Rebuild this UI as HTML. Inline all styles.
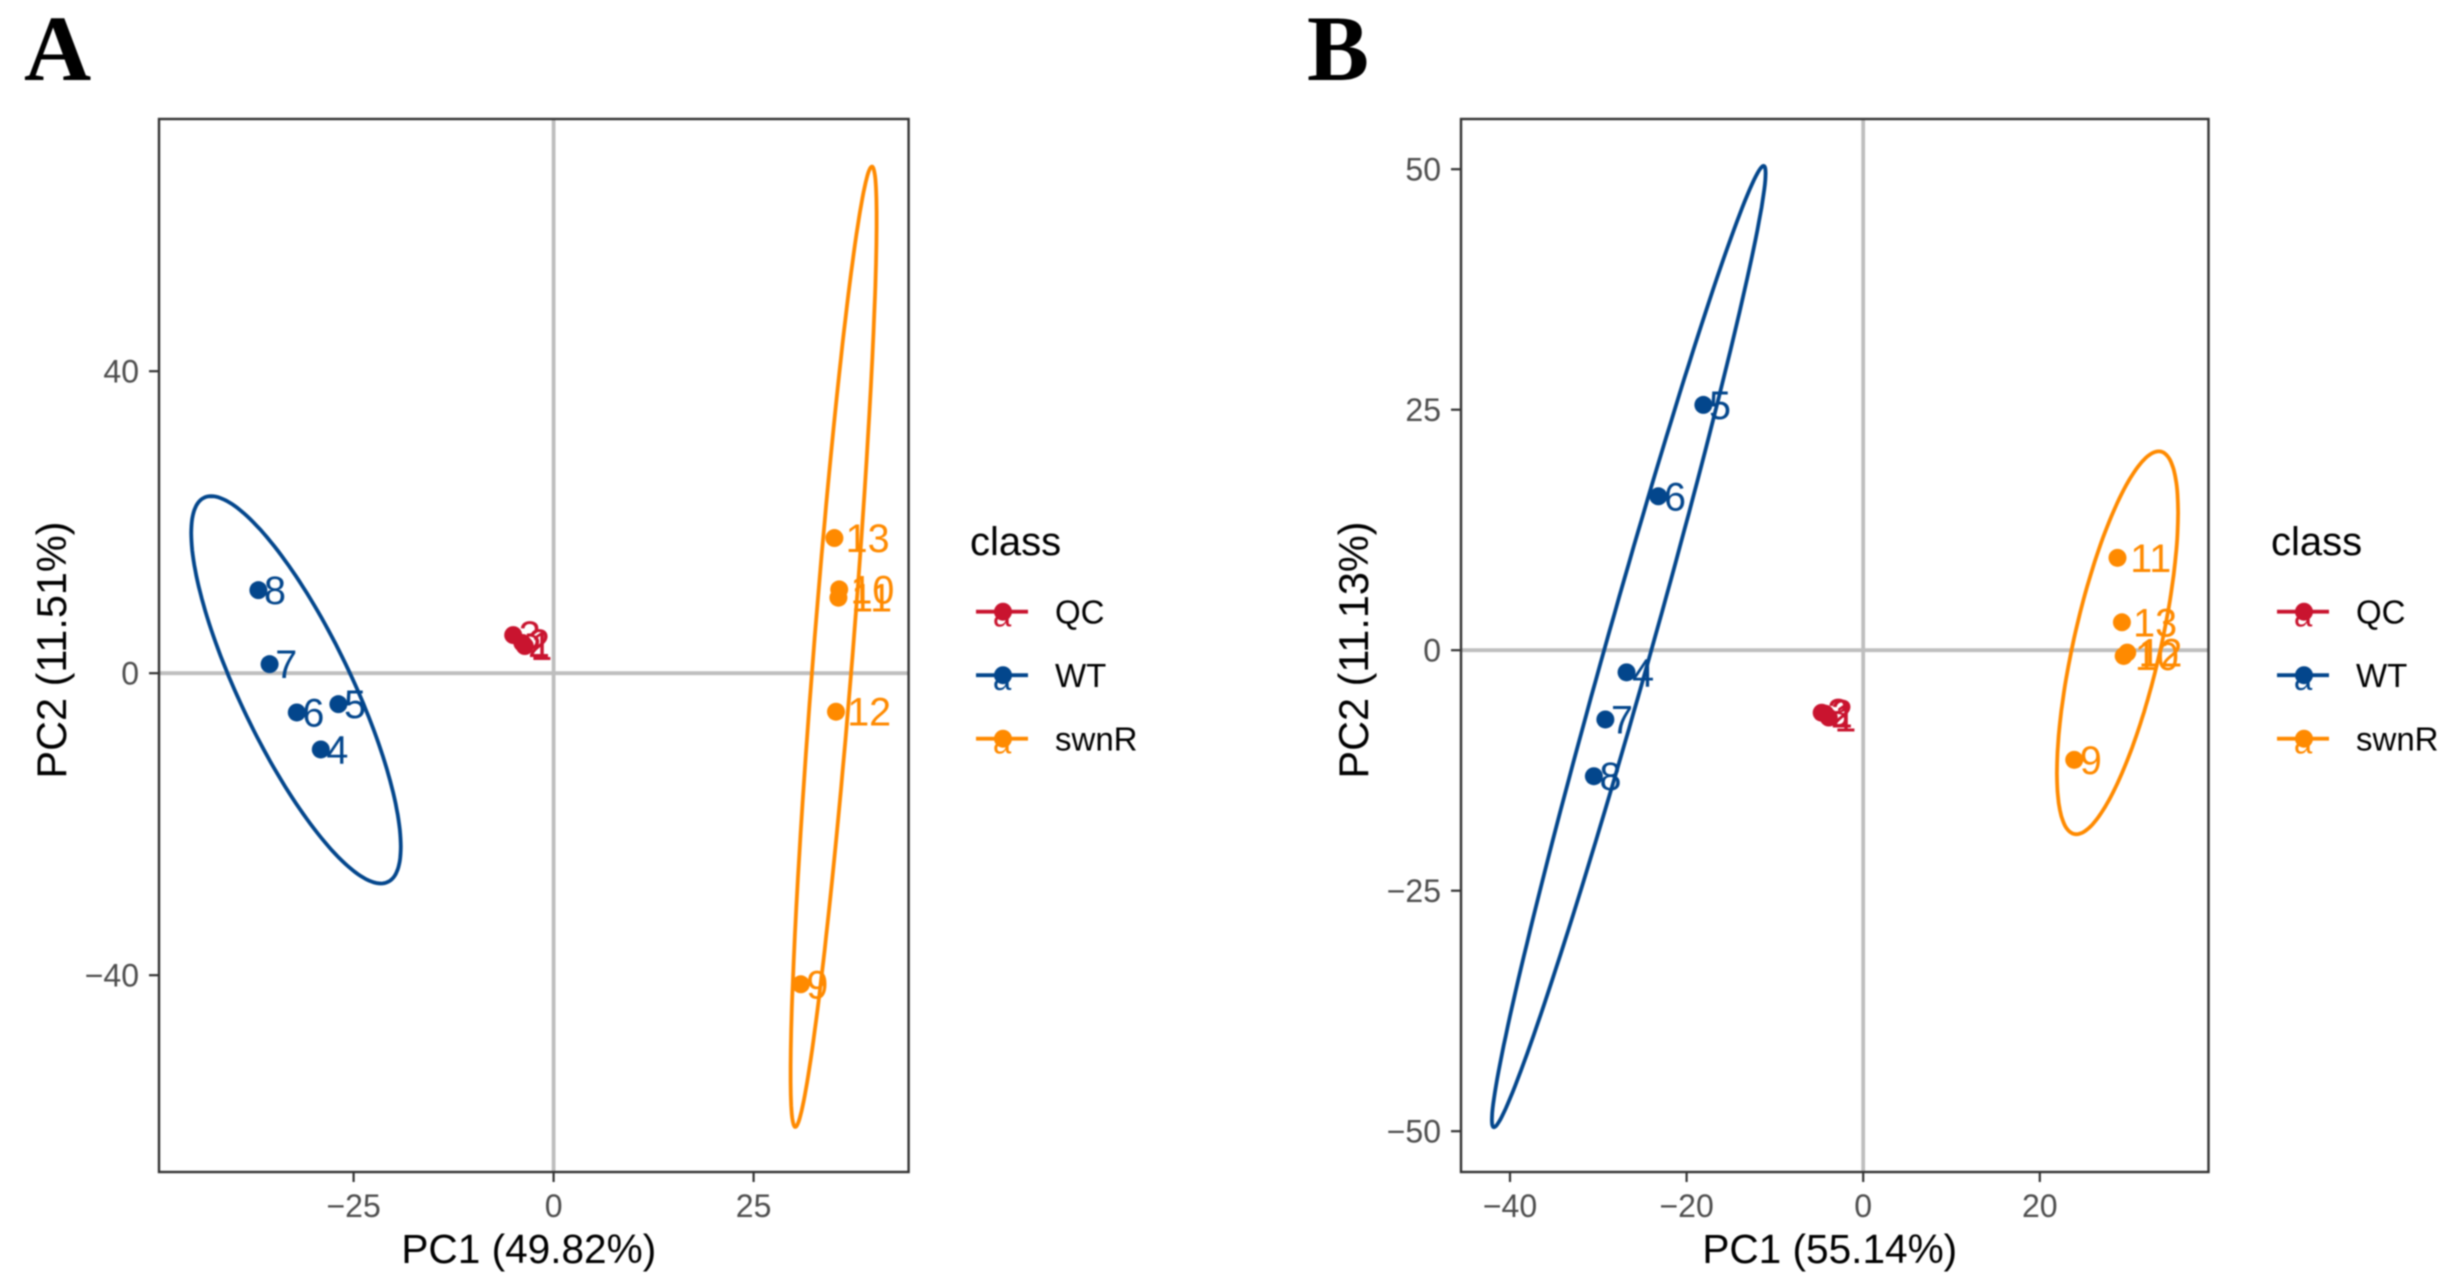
<!DOCTYPE html>
<html lang="en">
<head>
<meta charset="utf-8">
<title>PCA score plots</title>
<style>
html,body{margin:0;padding:0;background:#fff;width:2452px;height:1287px;overflow:hidden}
svg{display:block;filter:blur(0.8px)}
text{font-family:"Liberation Sans",Arial,sans-serif}
.panel-letter{font-family:"Liberation Serif","Times New Roman",serif;font-weight:bold;font-size:93px;fill:#000}
</style>
</head>
<body>
<svg id="figure" xmlns="http://www.w3.org/2000/svg" width="2452" height="1287" viewBox="0 0 2452 1287">
<rect x="0" y="0" width="2452" height="1287" fill="#fff"/>
<text class="panel-letter" x="24" y="80">A</text>
<text class="panel-letter" x="1307" y="80">B</text>
</svg>
<script>
// ---------- shared categories ----------
const classNames = ['QC', 'WT', 'swnR'];

// ---------- panel A values ----------
const samplesA = ['1','2','3','4','5','6','7','8','9','10','11','12','13'];
const classA = ['QC','QC','QC','WT','WT','WT','WT','WT','swnR','swnR','swnR','swnR','swnR'];
const pc1A = [-3.6,-3.9,-5.05,-29.1,-26.9,-32.1,-35.5,-36.9,30.9,35.7,35.6,35.3,35.1];
const pc2A = [3.6,4.0,5.05,-10.1,-4.1,-5.2,1.2,11.0,-41.2,11.1,10.0,-5.1,17.9];
const xTicksA = [-25,0,25];
const yTicksA = [-40,0,40];
const xTitleA = 'PC1 (49.82%)';
const yTitleA = 'PC2 (11.51%)';
const ellipseClassA = ['WT','swnR'];
const ellipseMeanXA = [-32.2,35.0];
const ellipseMeanYA = [-2.2,3.5];
const ellipseSpreadXA = [13.1,5.38];
const ellipseSpreadYA = [25.65,63.6];
const ellipseCorrA = [-0.81,0.89];

// ---------- panel B values ----------
const samplesB = ['1','2','3','4','5','6','7','8','9','10','11','12','13'];
const classB = ['QC','QC','QC','WT','WT','WT','WT','WT','swnR','swnR','swnR','swnR','swnR'];
const pc1B = [-3.9,-4.3,-4.7,-26.8,-18.1,-23.2,-29.2,-30.5,23.9,29.5,28.8,29.9,29.3];
const pc2B = [-7.0,-6.6,-6.5,-2.3,25.5,16.0,-7.2,-13.1,-11.4,-0.6,9.6,-0.25,2.9];
const xTicksB = [-40,-20,0,20];
const yTicksB = [-50,-25,0,25,50];
const xTitleB = 'PC1 (55.14%)';
const yTitleB = 'PC2 (11.13%)';
const ellipseClassB = ['WT','swnR'];
const ellipseMeanXB = [-26.55,28.8];
const ellipseMeanYB = [0.38,0.77];
const ellipseSpreadXB = [15.5,6.86];
const ellipseSpreadYB = [49.96,19.9];
const ellipseCorrB = [0.985,0.68];

// ---------- presentation ----------
const NS = 'http://www.w3.org/2000/svg';
const root = document.getElementById('figure');
const palette = {QC:'#C9142F', WT:'#03468C', swnR:'#FF8A00'};

function make(parent, tag, attrs, text) {
  const el = document.createElementNS(NS, tag);
  for (const k in attrs) el.setAttribute(k, attrs[k]);
  if (text !== undefined) el.textContent = text;
  parent.appendChild(el);
  return el;
}
function minus(v) { return v < 0 ? '\u2212' + Math.abs(v) : String(v); }

function drawPanel(cfg) {
  const sx = v => cfg.x0 + v * cfg.kx;
  const sy = v => cfg.y0 - v * cfg.ky;
  const L = cfg.left, R = cfg.right, T = 119, B = 1172;

  const g = make(root, 'g', {});
  
  

  const bg = make(g, 'rect', {x:L, y:T, width:R-L, height:B-T, fill:'#fff'});
  
  

  const h0 = make(g, 'line', {x1:L, x2:R, y1:sy(0), y2:sy(0), stroke:'#bebebe', 'stroke-width':3.8});
  
  
  const v0 = make(g, 'line', {x1:sx(0), x2:sx(0), y1:T, y2:B, stroke:'#bebebe', 'stroke-width':3.8});
  
  

  // ellipses
  cfg.ellipseClass.forEach((c, i) => {
    const phi = Math.acos(cfg.ellipseCorr[i]);
    const pts = [];
    for (let s = 0; s < 180; s++) {
      const t = s / 180 * 2 * Math.PI;
      const dx = cfg.ellipseMeanX[i] + cfg.ellipseSpreadX[i] * Math.cos(t);
      const dy = cfg.ellipseMeanY[i] + cfg.ellipseSpreadY[i] * Math.cos(t - phi);
      pts.push(sx(dx).toFixed(1) + ',' + sy(dy).toFixed(1));
    }
    const e = make(g, 'polygon', {points:pts.join(' '), fill:'none', stroke:palette[c], 'stroke-width':3.8});
    
    
  });

  // points + labels
  cfg.samples.forEach((lab, i) => {
    const c = cfg.cls[i];
    const p = make(g, 'circle', {cx:sx(cfg.pc1[i]), cy:sy(cfg.pc2[i]), r:9, fill:palette[c]});
    
    
    const t = make(g, 'text', {
      x: sx(cfg.pc1[i]) + 16.6 * lab.length,
      y: sy(cfg.pc2[i]) + 14,
      fill: palette[c], 'font-size': 39.5, 'text-anchor': 'middle'
    }, lab);
    
    
  });

  const border = make(g, 'rect', {x:L, y:T, width:R-L, height:B-T, fill:'none', stroke:'#333', 'stroke-width':2.4});
  
  

  // ticks
  cfg.xTicks.forEach(v => {
    const tk = make(g, 'line', {x1:sx(v), x2:sx(v), y1:B, y2:B+10, stroke:'#333', 'stroke-width':2.2});
    
    
    const tl = make(g, 'text', {x:sx(v), y:B+45, fill:'#4d4d4d', 'font-size':32, 'text-anchor':'middle'}, minus(v));
    
    
  });
  cfg.yTicks.forEach(v => {
    const tk = make(g, 'line', {x1:L-10, x2:L, y1:sy(v), y2:sy(v), stroke:'#333', 'stroke-width':2.2});
    
    
    const tl = make(g, 'text', {x:L-20, y:sy(v)+11.5, fill:'#4d4d4d', 'font-size':32, 'text-anchor':'end'}, minus(v));
    
    
  });

  // axis titles
  const xt = make(g, 'text', {x:(L+R)/2-5, y:1263, fill:'#000', 'font-size':40.6, 'text-anchor':'middle'}, cfg.xTitle);
  
  
  const ytx = L - 93, yty = 650;
  const yt = make(g, 'text', {x:ytx, y:yty, fill:'#000', 'font-size':41.4, 'text-anchor':'middle', transform:'rotate(-90 '+ytx+' '+yty+')'}, cfg.yTitle);
  
  

  // legend
  const lg = make(g, 'g', {});
  
  
  const lt = make(lg, 'text', {x:cfg.legendX, y:555, fill:'#000', 'font-size':40}, 'class');
  
  
  classNames.forEach((c, i) => {
    const y = 611.7 + i * 63.5;
    const entry = make(lg, 'g', {});
    
    
    make(entry, 'line', {x1:cfg.legendX+6, x2:cfg.legendX+58, y1:y, y2:y, stroke:palette[c], 'stroke-width':3.8});
    make(entry, 'text', {x:cfg.legendX+32, y:y+15, fill:palette[c], 'font-size':33, 'text-anchor':'middle'}, 'a');
    make(entry, 'circle', {cx:cfg.legendX+33, cy:y, r:9, fill:palette[c]});
    make(entry, 'text', {x:cfg.legendX+85, y:y+12, fill:'#000', 'font-size':33}, c);
  });
}

drawPanel({
  id:'a', left:159, right:908.6, x0:553.6, kx:8.0, y0:673.2, ky:7.55,
  samples:samplesA, cls:classA, pc1:pc1A, pc2:pc2A,
  xTicks:xTicksA, yTicks:yTicksA, xTitle:xTitleA, yTitle:yTitleA,
  ellipseClass:ellipseClassA, ellipseMeanX:ellipseMeanXA, ellipseMeanY:ellipseMeanYA,
  ellipseSpreadX:ellipseSpreadXA, ellipseSpreadY:ellipseSpreadYA, ellipseCorr:ellipseCorrA,
  legendX:970
});
drawPanel({
  id:'b', left:1461, right:2208.5, x0:1863.2, kx:8.83, y0:650.2, ky:9.62,
  samples:samplesB, cls:classB, pc1:pc1B, pc2:pc2B,
  xTicks:xTicksB, yTicks:yTicksB, xTitle:xTitleB, yTitle:yTitleB,
  ellipseClass:ellipseClassB, ellipseMeanX:ellipseMeanXB, ellipseMeanY:ellipseMeanYB,
  ellipseSpreadX:ellipseSpreadXB, ellipseSpreadY:ellipseSpreadYB, ellipseCorr:ellipseCorrB,
  legendX:2271
});
</script>
</body>
</html>
